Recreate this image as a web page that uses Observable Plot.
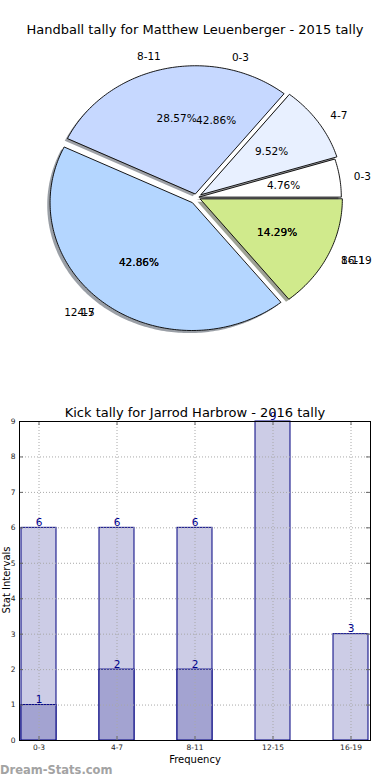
<!DOCTYPE html>
<html><head><meta charset="utf-8">
<script src="https://cdn.jsdelivr.net/npm/d3@7"></script>
<script src="https://cdn.jsdelivr.net/npm/@observablehq/plot@0.6"></script>
<style>
body{margin:0;background:#fff;font-family:"DejaVu Sans",sans-serif;}
#wrap{position:relative;width:390px;height:780px;overflow:hidden;background:#fff;}
.abs{position:absolute;white-space:nowrap;color:#000;}
#wrap svg{position:absolute;left:0;}
</style></head><body><div id="wrap"></div>
<script>
// ---- Pie data (two overlapping pies) ----
const pieTitle = "Handball tally for Matthew Leuenberger - 2015 tally";
const pieLabels = ["0-3", "4-7", "8-11", "12-15", "16-19"];
const pieValues = [1, 2, 6, 9, 3];
const pieExplode = [0.02, 0.04, 0.03, 0.05, 0.03];
const pieColors = ["#ffffff", "#e8f0ff", "#c6d8ff", "#b4d6ff", "#d0ea8c"];
const pie2Labels = ["0-3", "4-7", "8-11"];
const pie2Values = [9, 9, 3];
const pie2Explode = [0.02, 0.05, 0.03];

// ---- Bar data ----
const barTitle = "Kick tally for Jarrod Harbrow - 2016 tally";
const barCategories = ["0-3", "4-7", "8-11", "12-15", "16-19"];
const barTotals = [6, 6, 6, 9, 3];
const barSubCategories = ["0-3", "4-7", "8-11"];
const barSubValues = [1, 2, 2];
const yTicks = [0, 1, 2, 3, 4, 5, 6, 7, 8, 9];
const xLabel = "Frequency";
const yLabel = "Stat Intervals";
const watermark = "Dream-Stats.com";

const wrap = document.getElementById("wrap");
function addText(txt, css) {
  const d = document.createElement("div");
  d.className = "abs"; d.textContent = txt;
  Object.assign(d.style, css); wrap.appendChild(d); return d;
}

// ---- Pie geometry (matplotlib style: start at 0 rad, counter-clockwise) ----
function slices(values, labels, explode, colors) {
  const total = d3.sum(values);
  const cum = [0, ...d3.cumsum(values)];
  return values.map((v, i) => {
    const t1 = cum[i] / total * 2 * Math.PI, t2 = cum[i + 1] / total * 2 * Math.PI;
    const tm = (t1 + t2) / 2;
    return {label: labels[i], value: v, frac: v / total, t1, t2, tm,
      ox: explode[i] * Math.cos(tm), oy: explode[i] * Math.sin(tm),
      color: colors ? colors[i] : null};
  });
}
function wedge(s, dx = 0, dy = 0) {
  const pts = [[s.ox + dx, s.oy + dy]];
  const n = Math.max(2, Math.ceil((s.t2 - s.t1) / (Math.PI / 180)));
  for (let k = 0; k <= n; k++) {
    const t = s.t1 + (s.t2 - s.t1) * k / n;
    pts.push([s.ox + dx + Math.cos(t), s.oy + dy + Math.sin(t)]);
  }
  return pts;
}
function shade(c) {
  const r = d3.rgb(c);
  return d3.rgb(r.r * 0.3, r.g * 0.3, r.b * 0.3).formatHex();
}
const sB = slices(pieValues, pieLabels, pieExplode, pieColors);
const sA = slices(pie2Values, pie2Labels, pie2Explode, null);

function labelRows(ss) {
  return ss.map(s => ({
    text: s.label,
    x: s.ox + 1.1 * Math.cos(s.tm), y: s.oy + 1.1 * Math.sin(s.tm),
    px: s.ox + 0.6 * Math.cos(s.tm), py: s.oy + 0.6 * Math.sin(s.tm),
    pct: (s.frac * 100).toFixed(2) + "%"
  }));
}
const labs = [...labelRows(sA), ...labelRows(sB)];

const CX = 196, CY = 197, RX = 142, RY = 128, PH = 390;
const pieMarks = [];
for (const s of sB) {
  pieMarks.push(Plot.line(wedge(s, -0.02, -0.02), {curve: "linear-closed", fill: shade(s.color), fillOpacity: 0.5, stroke: "none"}));
}
for (const s of sB) {
  pieMarks.push(Plot.line(wedge(s), {curve: "linear-closed", fill: s.color, stroke: "#000", strokeWidth: 0.9}));
}
pieMarks.push(Plot.text(labs.filter(d => d.x > 0), {x: "x", y: "y", text: "text", textAnchor: "start", fontSize: 10.5, fill: "#000"}));
pieMarks.push(Plot.text(labs.filter(d => d.x <= 0), {x: "x", y: "y", text: "text", textAnchor: "end", fontSize: 10.5, fill: "#000"}));
pieMarks.push(Plot.text(labs, {x: "px", y: "py", text: "pct", textAnchor: "middle", fontSize: 10.5, fill: "#000"}));

const pie = Plot.plot({
  width: 390, height: PH, margin: 0,
  x: {domain: [-CX / RX, (390 - CX) / RX], axis: null},
  y: {domain: [-(PH - CY) / RY, CY / RY], axis: null},
  style: {fontFamily: "DejaVu Sans", background: "transparent"},
  marks: pieMarks
});
pie.style.top = "0px";
wrap.appendChild(pie);

addText(pieTitle, {left: "0px", width: "390px", textAlign: "center", top: "22px", fontSize: "13px", lineHeight: "16px"});

// ---- Bar chart ----
const totals = barCategories.map((c, i) => ({cat: c, v: barTotals[i]}));
const subs = barSubCategories.map((c, i) => ({cat: c, v: barSubValues[i]}));
const BT = 390, BH = 390;
const grid = {stroke: "#a8a8a8", strokeOpacity: 1, strokeDasharray: "1,2", strokeWidth: 1};
const bar = Plot.plot({
  width: 390, height: BH,
  marginTop: 421 - BT, marginBottom: BT + BH - 740, marginLeft: 19, marginRight: 20,
  x: {type: "band", domain: barCategories, paddingInner: 0.55, paddingOuter: 0, label: null},
  y: {domain: [0, 9], label: null},
  style: {fontFamily: "DejaVu Sans", background: "transparent", color: "#222"},
  marks: [
    Plot.barY(totals, {x: "cat", y: "v", fill: "#ccccE6", stroke: "#000080", strokeWidth: 1}),
    Plot.barY(subs, {x: "cat", y: "v", fill: "#a3a3d1", stroke: "#000080", strokeWidth: 1}),
    Plot.gridY(yTicks, grid),
    Plot.gridX(barCategories, grid),
    Plot.ruleY(yTicks, {insetRight: 347, stroke: "#666"}),
    Plot.ruleY(yTicks, {insetLeft: 347, stroke: "#666"}),
    Plot.ruleX(barCategories, {insetTop: 315, stroke: "#666"}),
    Plot.ruleX(barCategories, {insetBottom: 315, stroke: "#666"}),
    Plot.text(totals, {x: "cat", y: "v", text: d => String(d.v), lineAnchor: "bottom", dy: -2, fontSize: 10.5, fill: "#00008b"}),
    Plot.text(subs, {x: "cat", y: "v", text: d => String(d.v), lineAnchor: "bottom", dy: -2, fontSize: 10.5, fill: "#00008b"}),
    Plot.frame({stroke: "#000", strokeWidth: 1}),
    Plot.axisY(yTicks, {tickSize: 0, tickPadding: 4, fontSize: 7.5, label: null}),
    Plot.axisX({tickSize: 0, tickPadding: 4, fontSize: 7.5, label: null})
  ]
});
bar.style.top = BT + "px";
wrap.appendChild(bar);

addText(barTitle, {left: "0px", width: "390px", textAlign: "center", top: "405px", fontSize: "13px", lineHeight: "16px"});
addText(xLabel, {left: "0px", width: "390px", textAlign: "center", top: "754px", fontSize: "10px", lineHeight: "12px"});
addText(yLabel, {left: "6px", top: "580px", fontSize: "10px", lineHeight: "11px", transform: "translate(-50%,-50%) rotate(-90deg)"});
addText(watermark, {left: "0px", top: "763px", fontSize: "11.5px", lineHeight: "14px", color: "#a3a3a3", fontWeight: "bold"});
</script>
</body></html>
